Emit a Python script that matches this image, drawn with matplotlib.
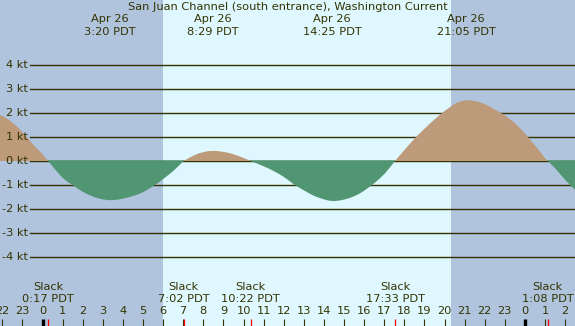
import numpy as np
from matplotlib import pyplot as plt

# current speed (kt), every quarter hour, hours from midnight Apr 26 PDT
hours = np.arange(-2.5, 27.01, 0.25)
speed = [2.00, 1.96, 1.88, 1.76, 1.60, 1.42, 1.20, 0.97, 0.72, 0.50,
         0.28, 0.03, -0.22, -0.47, -0.70, -0.87, -1.00, -1.15, -1.28, -1.39,
         -1.48, -1.55, -1.60, -1.63, -1.63, -1.61, -1.57, -1.52, -1.46, -1.39,
         -1.30, -1.18, -1.05, -0.91, -0.75, -0.59, -0.42, -0.22, -0.02, 0.11,
         0.22, 0.31, 0.37, 0.41, 0.42, 0.41, 0.38, 0.34, 0.28, 0.21,
         0.13, 0.04, -0.05, -0.13, -0.22, -0.31, -0.42, -0.53, -0.66, -0.81,
         -0.97, -1.10, -1.22, -1.34, -1.45, -1.53, -1.60, -1.65, -1.67, -1.65,
         -1.61, -1.55, -1.47, -1.37, -1.24, -1.09, -0.93, -0.75, -0.55, -0.30,
         -0.04, 0.21, 0.45, 0.69, 0.92, 1.14, 1.34, 1.54, 1.73, 1.91,
         2.08, 2.23, 2.38, 2.47, 2.52, 2.53, 2.50, 2.45, 2.37, 2.27,
         2.15, 2.03, 1.90, 1.75, 1.58, 1.37, 1.15, 0.90, 0.65, 0.39,
         0.12, -0.09, -0.30, -0.54, -0.78, -1.00, -1.20, -1.38, -1.55]

# max flood / max ebb events (top labels)
max_times = [3 + 20/60, 8 + 29/60, 14 + 25/60, 21 + 5/60]
max_labels = ["3:20 PDT", "8:29 PDT", "14:25 PDT", "21:05 PDT"]

# slack events (bottom labels)
slack_times = [17/60, 7 + 2/60, 10 + 22/60, 17 + 33/60, 24 + 68/60]
slack_labels = ["0:17 PDT", "7:02 PDT", "10:22 PDT", "17:33 PDT", "1:08 PDT"]

sunrise = 6.0
sunset = 20 + 19/60

kt_levels = [4, 3, 2, 1, 0, -1, -2, -3, -4]
hour_ticks = list(range(-2, 27))

title = "San Juan Channel (south entrance), Washington Current"

night = "#B0C4DE"
day = "#DFF7FF"
flood = "#BD9A7A"
ebb = "#519672"
ink = "#333300"
fs = 8.2

W, H = 575, 326
px_per_hr = 20.1
x0 = 42.5      # pixel of midnight
y0 = 161       # pixel of 0 kt
px_per_kt = 24

fig = plt.figure(figsize=(W / 100, H / 100), dpi=100)
ax = fig.add_axes([0, 0, 1, 1])
ax.set_xlim(-x0 / px_per_hr, (W - x0) / px_per_hr)
ax.set_ylim(-(H - y0) / px_per_kt, y0 / px_per_kt)
ax.axis("off")

xmin, xmax = ax.get_xlim()
ax.axvspan(xmin, xmax, color=day, zorder=0)
ax.axvspan(xmin, sunrise, color=night, zorder=0.1, lw=0)
ax.axvspan(sunset, xmax, color=night, zorder=0.1, lw=0)

# grid lines and kt labels
for k in kt_levels:
    ax.axhline(k, xmin=30 / W, xmax=1, color=ink, lw=1.0, zorder=1)
    ax.text(28 / W, k, f"{k} kt", transform=ax.get_yaxis_transform(),
            ha="right", va="center", color=ink, fontsize=fs)

speed = np.array(speed)
ax.fill_between(hours, 0, speed, where=speed >= 0, interpolate=True,
                color=flood, lw=0, zorder=2)
ax.fill_between(hours, 0.03, speed, where=speed <= 0, interpolate=True,
                color=ebb, lw=0, zorder=3)

xt = ax.get_xaxis_transform()
ax.text(0.5, 1 - 7.5 / H, title, transform=ax.transAxes, ha="center",
        va="center", color=ink, fontsize=fs)
for t, lab in zip(max_times, max_labels):
    ax.text(t, 1 - 19.5 / H, "Apr 26", transform=xt, ha="center", va="center",
            color=ink, fontsize=fs)
    ax.text(t, 1 - 32 / H, lab, transform=xt, ha="center", va="center",
            color=ink, fontsize=fs)

for t, lab in zip(slack_times, slack_labels):
    ax.text(t, (H - 287.5) / H, "Slack", transform=xt, ha="center", va="center",
            color=ink, fontsize=fs)
    ax.text(t, (H - 299.5) / H, lab, transform=xt, ha="center", va="center",
            color=ink, fontsize=fs)

# hour ticks along the bottom
for h in hour_ticks:
    ax.text(h, (H - 311.5) / H, str(h % 24), transform=xt, ha="center",
            va="center", color=ink, fontsize=fs)
    if h % 24 == 0:
        ax.vlines(h, 0, 7 / H, transform=xt, color="black", lw=2.4, zorder=4)
    else:
        ax.vlines(h, 0, 7 / H, transform=xt, color=ink, lw=0.8, zorder=4)
ax.vlines(slack_times, 0, 7 / H, transform=xt, color="red", lw=0.9, zorder=5)

fig.savefig("out.png", dpi=100)
